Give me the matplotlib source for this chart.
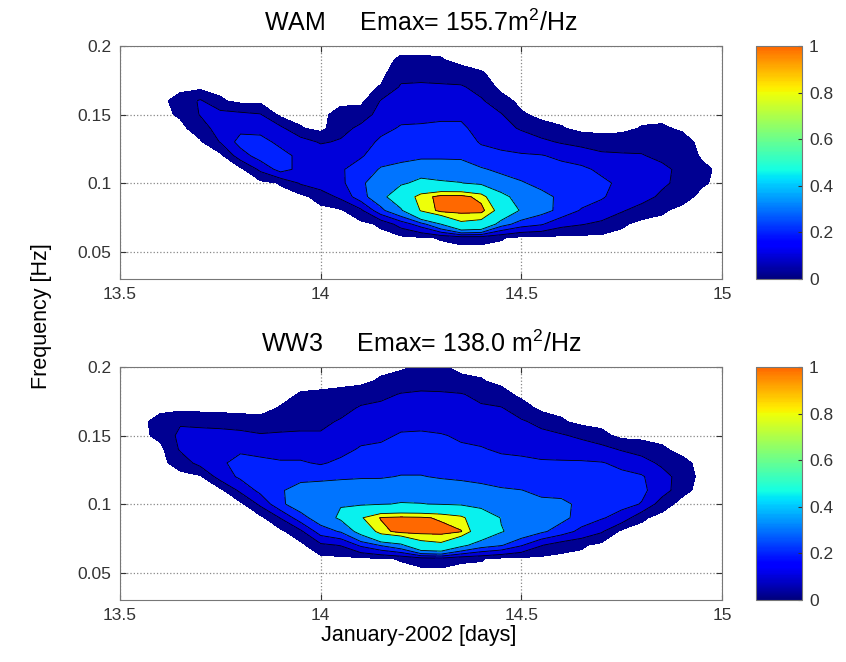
import numpy as np
import matplotlib
matplotlib.use('Agg')
import matplotlib.pyplot as plt
from matplotlib.colors import LinearSegmentedColormap, Normalize
from matplotlib.cm import ScalarMappable

plt.rcParams['font.family'] = ['Liberation Sans', 'DejaVu Sans']
plt.rcParams['mathtext.fontset'] = 'custom'
plt.rcParams['mathtext.rm'] = 'Liberation Sans'
plt.rcParams['mathtext.it'] = 'Liberation Sans'

# time axis (days of January 2002) and frequency axis (Hz)
days = np.round(np.arange(13.55, 15.0001, 0.05), 2)
freqs = np.round(np.arange(0.05, 0.2001, 0.01), 2)

# normalised contour levels (E / Emax)
levels = [0.02, 0.1, 0.2, 0.3, 0.45, 0.8, 0.95]

Z0 = [0] * 16
# one normalised spectrum (0.05..0.20 Hz) per time step
wam_spectra = [
    Z0,
    Z0,
    [0, 0, 0, 0, 0, 0, 0, 0, 0, 0, 0.03, 0.05, 0, 0, 0, 0],
    [0, 0, 0, 0, 0, 0, 0, 0, 0.01, 0.06, 0.105, 0.11, 0, 0, 0, 0],
    [0, 0, 0, 0, 0, 0, 0, 0, 0.105, 0.14, 0.13, 0.03, 0, 0, 0, 0],
    [0, 0, 0, 0, 0, 0, 0, 0.15, 0.24, 0.17, 0.12, 0, 0, 0, 0, 0],
    [0, 0, 0, 0, 0, 0, 0.12, 0.25, 0.24, 0.16, 0.105, 0, 0, 0, 0, 0],
    [0, 0, 0, 0, 0, 0.025, 0.24, 0.24, 0.17, 0.12, 0, 0, 0, 0, 0, 0],
    [0, 0, 0, 0, 0, 0.11, 0.17, 0.17, 0.14, 0.025, 0, 0, 0, 0, 0, 0],
    [0, 0, 0, 0, 0.05, 0.15, 0.18, 0.16, 0.09, 0, 0, 0, 0, 0, 0, 0],
    [0, 0, 0, 0.01, 0.12, 0.18, 0.19, 0.16, 0.11, 0.07, 0.05, 0, 0, 0, 0, 0],
    [0, 0, 0, 0.08, 0.26, 0.27, 0.24, 0.19, 0.15, 0.12, 0.06, 0, 0, 0, 0, 0],
    [0, 0, 0.03, 0.27, 0.38, 0.40, 0.31, 0.25, 0.22, 0.17, 0.13, 0.105, 0.025, 0, 0, 0],
    [0, 0, 0.14, 0.42, 0.62, 0.42, 0.33, 0.27, 0.24, 0.21, 0.17, 0.13, 0.11, 0.07, 0.03, 0],
    [0, 0.01, 0.25, 0.82, 0.88, 0.50, 0.36, 0.28, 0.25, 0.21, 0.18, 0.14, 0.11, 0.08, 0.03, 0],
    [0, 0.025, 0.45, 1.00, 1.00, 0.47, 0.36, 0.28, 0.25, 0.22, 0.18, 0.15, 0.11, 0.07, 0.025, 0],
    [0, 0.04, 0.75, 1.00, 1.00, 0.455, 0.35, 0.28, 0.25, 0.22, 0.18, 0.14, 0.11, 0.05, 0, 0],
    [0, 0.04, 0.70, 1.00, 0.90, 0.40, 0.31, 0.24, 0.19, 0.16, 0.13, 0.11, 0.07, 0.025, 0, 0],
    [0, 0.025, 0.35, 0.70, 0.50, 0.34, 0.28, 0.22, 0.17, 0.13, 0.105, 0.05, 0, 0, 0, 0],
    [0, 0, 0.25, 0.42, 0.38, 0.31, 0.25, 0.21, 0.15, 0.09, 0.03, 0, 0, 0, 0, 0],
    [0, 0, 0.21, 0.34, 0.33, 0.27, 0.23, 0.205, 0.12, 0.05, 0, 0, 0, 0, 0, 0],
    [0, 0, 0.13, 0.27, 0.28, 0.25, 0.23, 0.18, 0.09, 0.025, 0, 0, 0, 0, 0, 0],
    [0, 0, 0.105, 0.19, 0.25, 0.24, 0.22, 0.15, 0.07, 0, 0, 0, 0, 0, 0, 0],
    [0, 0, 0.08, 0.16, 0.21, 0.22, 0.18, 0.12, 0.05, 0, 0, 0, 0, 0, 0, 0],
    [0, 0, 0.03, 0.11, 0.16, 0.18, 0.16, 0.11, 0.06, 0, 0, 0, 0, 0, 0, 0],
    [0, 0, 0, 0.06, 0.14, 0.16, 0.14, 0.105, 0.07, 0.025, 0, 0, 0, 0, 0, 0],
    [0, 0, 0, 0.03, 0.08, 0.12, 0.12, 0.08, 0.06, 0.03, 0, 0, 0, 0, 0, 0],
    [0, 0, 0, 0, 0.05, 0.07, 0.08, 0.07, 0.05, 0.01, 0, 0, 0, 0, 0, 0],
    [0, 0, 0, 0, 0, 0.03, 0.04, 0.01, 0, 0, 0, 0, 0, 0, 0, 0],
    Z0,
]

ww3_spectra = [
    Z0,
    [0, 0, 0, 0, 0, 0, 0, 0, 0, 0, 0.04, 0.05, 0, 0, 0, 0],
    [0, 0, 0, 0, 0, 0, 0, 0, 0.05, 0.11, 0.12, 0.09, 0, 0, 0, 0],
    [0, 0, 0, 0, 0, 0, 0, 0.01, 0.13, 0.15, 0.14, 0.07, 0, 0, 0, 0],
    [0, 0, 0, 0, 0, 0, 0, 0.14, 0.18, 0.17, 0.14, 0.06, 0, 0, 0, 0],
    [0, 0, 0, 0, 0, 0, 0.12, 0.22, 0.24, 0.18, 0.13, 0.05, 0, 0, 0, 0],
    [0, 0, 0, 0, 0, 0.12, 0.23, 0.26, 0.23, 0.16, 0.11, 0.04, 0, 0, 0, 0],
    [0, 0, 0, 0, 0.105, 0.28, 0.29, 0.25, 0.21, 0.16, 0.11, 0.07, 0.025, 0, 0, 0],
    [0, 0, 0, 0.08, 0.26, 0.36, 0.34, 0.27, 0.21, 0.16, 0.11, 0.08, 0.05, 0.025, 0, 0],
    [0, 0, 0.08, 0.25, 0.36, 0.42, 0.36, 0.27, 0.19, 0.14, 0.11, 0.08, 0.05, 0.03, 0, 0],
    [0, 0, 0.105, 0.31, 0.48, 0.44, 0.37, 0.28, 0.22, 0.17, 0.13, 0.11, 0.07, 0.04, 0, 0],
    [0, 0, 0.22, 0.52, 0.78, 0.42, 0.36, 0.29, 0.23, 0.21, 0.17, 0.13, 0.11, 0.06, 0, 0],
    [0, 0.01, 0.31, 0.90, 0.96, 0.44, 0.37, 0.29, 0.25, 0.22, 0.18, 0.15, 0.12, 0.08, 0.03, 0],
    [0, 0.025, 0.40, 1.00, 0.98, 0.46, 0.37, 0.305, 0.26, 0.23, 0.21, 0.17, 0.13, 0.105, 0.05, 0.01],
    [0, 0.05, 0.70, 1.00, 0.97, 0.455, 0.37, 0.305, 0.26, 0.23, 0.21, 0.18, 0.14, 0.11, 0.07, 0.03],
    [0, 0.06, 0.75, 1.00, 0.93, 0.44, 0.36, 0.29, 0.25, 0.22, 0.205, 0.17, 0.14, 0.11, 0.06, 0.03],
    [0, 0.03, 0.50, 0.96, 0.85, 0.42, 0.35, 0.28, 0.24, 0.21, 0.19, 0.16, 0.13, 0.105, 0.04, 0],
    [0, 0.025, 0.36, 0.62, 0.60, 0.38, 0.33, 0.27, 0.23, 0.205, 0.18, 0.14, 0.11, 0.08, 0.025, 0],
    [0, 0, 0.31, 0.46, 0.44, 0.35, 0.31, 0.26, 0.22, 0.19, 0.16, 0.12, 0.105, 0.05, 0, 0],
    [0, 0, 0.21, 0.39, 0.38, 0.33, 0.302, 0.25, 0.22, 0.18, 0.14, 0.11, 0.06, 0, 0, 0],
    [0, 0, 0.105, 0.32, 0.34, 0.32, 0.28, 0.24, 0.21, 0.17, 0.12, 0.08, 0, 0, 0, 0],
    [0, 0, 0.05, 0.25, 0.33, 0.32, 0.27, 0.23, 0.21, 0.16, 0.11, 0.03, 0, 0, 0, 0],
    [0, 0, 0.03, 0.17, 0.26, 0.28, 0.26, 0.23, 0.21, 0.15, 0.08, 0, 0, 0, 0, 0],
    [0, 0, 0, 0.11, 0.21, 0.25, 0.24, 0.22, 0.205, 0.13, 0.04, 0, 0, 0, 0, 0],
    [0, 0, 0, 0, 0.16, 0.23, 0.23, 0.22, 0.18, 0.09, 0, 0, 0, 0, 0, 0],
    [0, 0, 0, 0, 0.03, 0.195, 0.22, 0.21, 0.14, 0.06, 0, 0, 0, 0, 0, 0],
    [0, 0, 0, 0, 0, 0.05, 0.15, 0.14, 0.08, 0.03, 0, 0, 0, 0, 0, 0],
    [0, 0, 0, 0, 0, 0, 0.04, 0.06, 0.04, 0, 0, 0, 0, 0, 0, 0],
    Z0,
    Z0,
]

titles = ['WAM     Emax= 155.7m$^2$/Hz', 'WW3     Emax= 138.0 m$^2$/Hz']
xticks = [13.5, 14, 14.5, 15]
xticklabels = ['13.5', '14', '14.5', '15']
yticks = [0.05, 0.1, 0.15, 0.2]
yticklabels = ['0.05', '0.1', '0.15', '0.2']
cbticks = [0, 0.2, 0.4, 0.6, 0.8, 1]
cbticklabels = ['0', '0.2', '0.4', '0.6', '0.8', '1']

# truncated jet colormap (as used in the figure)
cmap = LinearSegmentedColormap.from_list('jet_trunc', plt.cm.jet(np.linspace(0, 0.8, 256)))
band_vals = [0.02, 0.1, 0.2, 0.3, 0.45, 0.8, 1.0]
band_colors = [cmap(v) for v in band_vals]

W, H = 846, 662
fig = plt.figure(figsize=(W / 100, H / 100), dpi=100)

def fx(px):
    return px / W

def fy(py):
    return 1 - py / H

panels = [(wam_spectra, 46, 279), (ww3_spectra, 367, 600)]
tick_col = '#333333'
for i, (spec, top, bot) in enumerate(panels):
    ax = fig.add_axes([fx(120), fy(bot), fx(722) - fx(120), fy(top) - fy(bot)])
    Z = np.array(spec, dtype=float).T
    ax.set_axisbelow(True)
    ax.contourf(days, freqs, Z, levels=levels + [1.2], colors=band_colors)
    ax.contour(days, freqs, Z, levels=levels[1:], colors='k', linewidths=0.6)
    ax.set_xlim(13.5, 15)
    ax.set_ylim(0.03, 0.2)
    ax.set_xticks(xticks)
    ax.set_xticklabels(xticklabels)
    ax.set_yticks(yticks)
    ax.set_yticklabels(yticklabels)
    ax.grid(True, linestyle=':', color='#888888', linewidth=0.9)
    ax.tick_params(direction='in', length=4, labelsize=12.5, colors=tick_col,
                   top=True, right=True, pad=6)
    for s in ax.spines.values():
        s.set_color('#777777')
        s.set_linewidth(0.8)
    ax.set_title(titles[i], fontsize=18, pad=11)

    cax = fig.add_axes([fx(756), fy(bot), fx(802) - fx(756), fy(top) - fy(bot)])
    sm = ScalarMappable(norm=Normalize(0, 1), cmap=cmap)
    cb = fig.colorbar(sm, cax=cax, ticks=cbticks)
    cb.set_ticklabels(cbticklabels)
    cb.outline.set_edgecolor('#777777')
    cb.outline.set_linewidth(0.8)
    cax.tick_params(direction='in', length=3, labelsize=12.5, colors=tick_col, pad=5)

fig.text(0.049, 0.522, 'Frequency [Hz]', rotation=90, ha='center', va='center', fontsize=15.5)
fig.text(fx(419), fy(635), 'January-2002 [days]', ha='center', va='center', fontsize=15.5)

fig.savefig('out.png', dpi=100)
